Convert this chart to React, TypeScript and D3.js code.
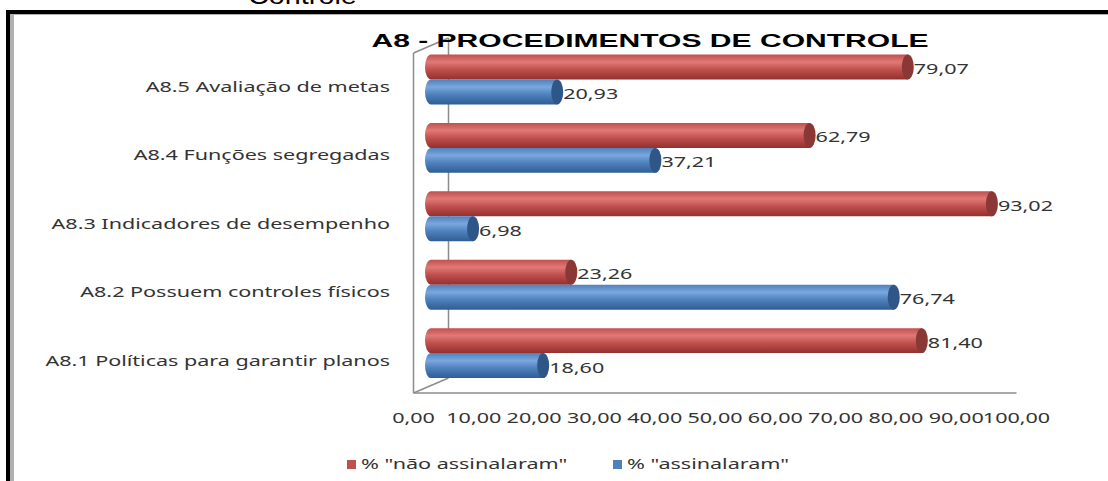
import React from "react";
import * as d3 from "d3";

const categories = [
  "A8.1 Políticas para garantir planos",
  "A8.2 Possuem controles físicos",
  "A8.3 Indicadores de desempenho",
  "A8.4 Funções segregadas",
  "A8.5 Avaliação de metas",
];
const naoAssinalaram = [81.4, 23.26, 93.02, 62.79, 79.07];
const assinalaram = [18.6, 76.74, 6.98, 37.21, 20.93];
const xTicks = [0, 10, 20, 30, 40, 50, 60, 70, 80, 90, 100];
const seriesNames = ['% "não assinalaram"', '% "assinalaram"'];
const titleText = "A8 - PROCEDIMENTOS DE CONTROLE";
const topText = "Controle";

const W = 1108;
const H = 481;
const SX = 1.54; // horizontal text stretch of the reference
const FONT = "'Noto Sans', 'Open Sans', sans-serif";
const TXT = "#333333";
const DX = 17.5; // half depth (x)
const DY = 7.5; // half depth (y)

const fmt = (v: number) => d3.format(".2f")(v).replace(".", ",");

const x = d3.scaleLinear().domain([0, 100]).range([431, 1034]);
const y = d3
  .scaleBand<string>()
  .domain([...categories].reverse())
  .range([45.3, 387.3])
  .paddingInner(0.27)
  .paddingOuter(0.135);
const sub = d3
  .scaleBand<string>()
  .domain(["nao", "ass"])
  .range([0, y.bandwidth()]);

const redCols = { top: "#e07a77", mid: "#c0504d", bot: "#93302e", cap: "#8a3836" };
const blueCols = { top: "#7aa7de", mid: "#4f81bd", bot: "#2f5d93", cap: "#2e5686" };

function STxt(props: {
  x: number;
  y: number;
  anchor?: "start" | "middle" | "end";
  size?: number;
  weight?: string | number;
  family?: string;
  sx?: number;
  fill?: string;
  children: React.ReactNode;
}) {
  const { anchor = "start", size = 14, weight = "normal", family = FONT, sx = SX, fill = TXT } = props;
  return (
    <text
      transform={`translate(${props.x},${props.y}) scale(${sx},1)`}
      textAnchor={anchor}
      fontSize={size}
      fontWeight={weight}
      fontFamily={family}
      fill={fill}
    >
      {props.children}
    </text>
  );
}

function Cylinder({ v, yTop, h, cols, id }: { v: number; yTop: number; h: number; cols: any; id: string }) {
  const x0 = x(0);
  const x1 = x(v);
  const rx = 6;
  const ry = h / 2;
  const cy = yTop + ry;
  const path = `M${x0},${yTop} L${x1},${yTop} L${x1},${yTop + h} L${x0},${yTop + h} A${rx},${ry} 0 0 1 ${x0},${yTop} Z`;
  return (
    <g>
      <path d={path} fill={`url(#${id})`} />
      <ellipse cx={x1} cy={cy} rx={rx} ry={ry} fill={cols.cap} />
    </g>
  );
}

export default function App() {
  const bw = sub.bandwidth();
  return (
    <svg
      width={W}
      height={H}
      style={{ position: "fixed", left: 0, top: 0, background: "#fff" }}
    >
      <defs>
        {[
          ["gRed", redCols],
          ["gBlue", blueCols],
        ].map(([id, c]: any) => (
          <linearGradient key={id} id={id} x1="0" y1="0" x2="0" y2="1">
            <stop offset="0" stopColor={c.mid} />
            <stop offset="0.3" stopColor={c.top} />
            <stop offset="0.6" stopColor={c.mid} />
            <stop offset="1" stopColor={c.bot} />
          </linearGradient>
        ))}
      </defs>
      <rect width={W} height={H} fill="#fff" />

      {/* top caption cut off */}
      <STxt x={248} y={4} size={24} family="'Liberation Sans', Arial, sans-serif" sx={1.2} fill="#000">
        {topText}
      </STxt>

      {/* outer frame */}
      <rect x={6} y={10} width={4} height={H} fill="#000" />
      <rect x={6} y={10} width={W} height={4} fill="#000" />
      <rect x={10} y={14} width={4} height={H} fill="#b0b0b0" />
      <rect x={10} y={14} width={W} height={1} fill="#b0b0b0" />

      {/* 3D walls */}
      <g stroke="#8c8c8c" strokeWidth={1.5} fill="none">
        <line x1={x(0) - DX} y1={53} x2={x(0) - DX} y2={393} />
        <line x1={x(0) + DX} y1={38} x2={x(0) + DX} y2={378} />
        <line x1={x(0) - DX} y1={53} x2={x(0) + DX} y2={38} />
        <line x1={x(0) - DX} y1={393} x2={x(0) + DX} y2={378} />
        <line x1={x(0) - DX} y1={393} x2={x(100) - DX} y2={393} />
      </g>

      {/* title */}
      <STxt x={650} y={47} anchor="middle" size={18} weight="bold" family="'Liberation Sans', Arial, sans-serif" sx={1.67} fill="#000">
        {titleText}
      </STxt>

      {/* bars */}
      {categories.map((c, i) => {
        const yb = y(c)!;
        const yr = yb + sub("nao")!;
        const yl = yb + sub("ass")!;
        return (
          <g key={c}>
            <Cylinder v={naoAssinalaram[i]} yTop={yr} h={bw} cols={redCols} id="gRed" />
            <Cylinder v={assinalaram[i]} yTop={yl} h={bw} cols={blueCols} id="gBlue" />
            <STxt x={x(naoAssinalaram[i]) + 6} y={yr + bw / 2 + 7}>
              {fmt(naoAssinalaram[i])}
            </STxt>
            <STxt x={x(assinalaram[i]) + 6} y={yl + bw / 2 + 7}>
              {fmt(assinalaram[i])}
            </STxt>
            <STxt x={390} y={yb + y.bandwidth() / 2 + DY + 5} anchor="end">
              {c}
            </STxt>
          </g>
        );
      })}

      {/* x tick labels */}
      {xTicks.map((t) => (
        <STxt key={t} x={x(t) - DX} y={423} anchor="middle">
          {fmt(t)}
        </STxt>
      ))}

      {/* legend */}
      <rect x={347} y={460} width={9} height={9} fill={redCols.mid} />
      <STxt x={361} y={469}>{seriesNames[0]}</STxt>
      <rect x={613} y={460} width={9} height={9} fill={blueCols.mid} />
      <STxt x={627} y={469}>{seriesNames[1]}</STxt>
    </svg>
  );
}
